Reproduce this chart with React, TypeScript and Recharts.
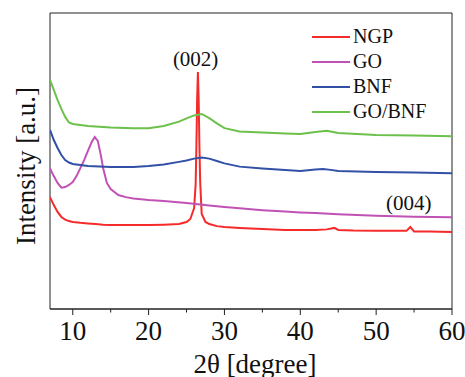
import React from 'react';
import {
  LineChart,
  Line,
  XAxis,
  YAxis,
  ReferenceArea,
  ReferenceDot,
  Legend,
} from 'recharts';

// 2θ positions and intensities (a.u., curves stacked with offsets)
const ngpTheta = [7, 7.5, 8, 8.5, 9, 9.5, 10, 11, 12, 13, 14, 15, 16, 18, 20, 22, 24, 25, 25.5, 26, 26.2, 26.3, 26.4, 26.5, 26.6, 26.7, 26.8, 27, 27.5, 28, 29, 30, 32, 35, 38, 40, 42, 43.5, 44.5, 45, 47, 50, 52, 54, 54.5, 55, 57, 60];
const ngpIntensity = [37.8, 35.1, 32.8, 31.1, 30.2, 29.7, 29.4, 29.1, 28.9, 28.7, 28.5, 28.4, 28.4, 28.4, 28.4, 28.5, 28.7, 29.4, 30.4, 34.1, 42, 55, 71, 80.1, 71, 55, 43, 32.1, 29.4, 28.7, 28.0, 27.7, 27.4, 27.0, 26.7, 26.7, 26.7, 26.9, 27.4, 26.7, 26.5, 26.4, 26.4, 26.4, 27.7, 26.2, 26.2, 26.0];

const goTheta = [7, 7.5, 8, 8.5, 9, 9.5, 10, 10.5, 11, 11.5, 12, 12.5, 12.9, 13.3, 13.7, 14, 14.5, 15, 16, 17, 18, 20, 22, 25, 28, 30, 32, 35, 38, 40, 42, 45, 50, 55, 60];
const goIntensity = [47.5, 44.9, 42.6, 41.0, 41.2, 41.9, 42.9, 44.9, 47.6, 50.3, 53.4, 56.4, 58.1, 56.8, 52.0, 47.6, 42.6, 40.5, 38.5, 37.8, 37.3, 36.8, 36.5, 35.8, 35.0, 34.5, 34.0, 33.4, 32.9, 32.6, 32.4, 32.0, 31.5, 31.2, 31.0];

const bnfTheta = [7, 7.5, 8, 8.5, 9, 9.5, 10, 12, 15, 18, 20, 22, 24, 25, 26, 27, 28, 29, 30, 32, 35, 38, 40, 42, 43, 44, 45, 50, 55, 60];
const bnfIntensity = [60.5, 57.1, 54.4, 52.0, 50.3, 49.5, 49.0, 48.3, 48.0, 48.0, 48.3, 48.8, 49.7, 50.2, 50.8, 51.2, 50.8, 50.0, 49.2, 48.1, 47.5, 47.0, 46.6, 47.1, 47.3, 47.0, 46.6, 46.3, 46.1, 45.9];

const goBnfTheta = [7, 7.5, 8, 8.5, 9, 9.5, 10, 12, 15, 18, 20, 22, 24, 25, 26, 27, 28, 29, 30, 32, 35, 38, 40, 42, 43.5, 45, 50, 55, 60];
const goBnfIntensity = [77.4, 74.0, 70.6, 67.6, 64.9, 63.0, 62.5, 61.8, 61.3, 61.1, 61.1, 61.8, 63.3, 64.4, 65.4, 65.9, 64.5, 62.7, 61.1, 60.0, 59.6, 59.3, 59.1, 59.8, 60.2, 59.5, 58.8, 58.6, 58.4];

const xTicks = [10, 15, 20, 25, 30, 35, 40, 45, 50, 55, 60];

const toPoints = (theta: number[], intensity: number[]) =>
  theta.map((t, i) => ({ theta: t, intensity: intensity[i] }));

const series = [
  { name: 'NGP', color: '#f52a2a', data: toPoints(ngpTheta, ngpIntensity) },
  { name: 'GO', color: '#c152b5', data: toPoints(goTheta, goIntensity) },
  { name: 'BNF', color: '#3150a6', data: toPoints(bnfTheta, bnfIntensity) },
  { name: 'GO/BNF', color: '#6cc04c', data: toPoints(goBnfTheta, goBnfIntensity) },
];

const FONT = '"Liberation Serif", "Times New Roman", serif';

const XTick = (props: any) => {
  const { x, y, payload } = props;
  const major = payload.value % 10 === 0;
  return (
    <g>
      <line x1={x} y1={y} x2={x} y2={y + (major ? 6 : 3.5)} stroke="#222" strokeWidth={1} />
      {major && (
        <text x={x} y={y + 31} textAnchor="middle" fontFamily={FONT} fontSize={27} fill="#111">
          {payload.value}
        </text>
      )}
    </g>
  );
};

const LegendBox = () => (
  <div style={{ fontFamily: FONT, fontSize: 20, color: '#111' }}>
    {series.map((s) => (
      <div key={s.name} style={{ display: 'flex', alignItems: 'center', height: 25 }}>
        <div style={{ width: 38, height: 2, background: s.color, marginRight: 3 }} />
        <span>{s.name}</span>
      </div>
    ))}
  </div>
);

export default function App() {
  return (
    <div style={{ position: 'absolute', left: 0, top: 0, background: '#fff' }}>
      <LineChart width={465} height={377} margin={{ top: 13, right: 13, bottom: 0, left: 50 }}>
        <XAxis
          type="number"
          dataKey="theta"
          domain={[7, 60]}
          ticks={xTicks}
          interval={0}
          allowDataOverflow
          height={68}
          tickSize={0}
          tickMargin={0}
          tickLine={false}
          tick={<XTick />}
          axisLine={{ stroke: '#222' }}
        />
        <YAxis type="number" dataKey="intensity" domain={[0, 100]} width={0} tick={false} tickLine={false} axisLine={false} />
        <ReferenceArea x1={7} x2={60} y1={0} y2={100} fill="none" stroke="#222" strokeWidth={1} />
        {series.map((s) => (
          <Line
            key={s.name}
            data={s.data}
            dataKey="intensity"
            name={s.name}
            type="linear"
            stroke={s.color}
            strokeWidth={2}
            dot={false}
            isAnimationActive={false}
          />
        ))}
        <ReferenceDot
          x={26.2}
          y={84.5}
          r={0}
          fill="none"
          stroke="none"
          label={{ value: '(002)', position: 'center', fontFamily: FONT, fontSize: 21, fill: '#111' }}
        />
        <ReferenceDot
          x={54.3}
          y={36}
          r={0}
          fill="none"
          stroke="none"
          label={{ value: '(004)', position: 'center', fontFamily: FONT, fontSize: 21, fill: '#111' }}
        />
        <Legend
          layout="horizontal"
          verticalAlign="middle"
          align="center"
          content={<LegendBox />}
          wrapperStyle={{ left: 312, top: 24, width: 140 }}
        />
      </LineChart>
      <div
        style={{
          position: 'absolute',
          left: 255,
          top: 364,
          transform: 'translate(-50%, -50%)',
          fontFamily: FONT,
          fontSize: 27,
          lineHeight: 1,
          color: '#111',
          whiteSpace: 'nowrap',
        }}
      >
        2θ [degree]
      </div>
      <div
        style={{
          position: 'absolute',
          left: 26,
          top: 166,
          transform: 'translate(-50%, -50%) rotate(-90deg)',
          fontFamily: FONT,
          fontSize: 27,
          lineHeight: 1,
          color: '#111',
          whiteSpace: 'nowrap',
        }}
      >
        Intensity [a.u.]
      </div>
    </div>
  );
}
